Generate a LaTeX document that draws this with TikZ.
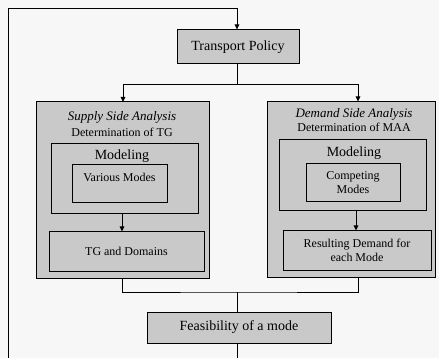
\documentclass[tikz,border=0pt]{standalone}
\usepackage{fontspec}
\setmainfont{Liberation Serif}
\usetikzlibrary{arrows.meta}

\begin{document}
\begin{tikzpicture}[x=1pt,y=-1pt,
      b/.style={draw, line width=1pt, fill=gray!42, inner sep=0pt, align=center,
      font=\fontsize{12}{14}\selectfont},
      big/.style={font=\fontsize{14}{16}\selectfont},
      ttl/.style={inner sep=0pt, align=center, font=\fontsize{13}{15}\selectfont\itshape},
      sub/.style={inner sep=0pt, font=\fontsize{12}{14}\selectfont},
      >={Triangle[length=5pt,width=4.5pt]}]
    \clip (0,0) rectangle (439,358);
    \fill[black!3] (0,0) rectangle (439,358);
    \node[b,big,minimum width=122pt,minimum height=34pt] (tp) at (238,47) {Transport Policy};
    \node[b,minimum width=173pt,minimum height=176pt] (supply) at (122.5,190) {};
    \node[b,minimum width=168pt,minimum height=175pt] (demand) at (351,189.5) {};
    \node[ttl] (st) at (122,117) {Supply Side Analysis};
    \node[sub] (sd) at (122,132.5) {Determination of TG};
    \node[ttl] (dt) at (354,114) {Demand Side Analysis};
    \node[sub] (dd) at (354,127.5) {Determination of MAA};
    \node[b,minimum width=147pt,minimum height=70pt] (smod) at (124.5,179) {};
    \node[big,inner sep=0pt] (smt) at (122,156) {Modeling};
    \node[b,minimum width=95pt,minimum height=38pt] (vm) at (119.5,184) {};
    \node[sub] (vmt) at (119.5,177) {Various Modes};
    \node[b,minimum width=147pt,minimum height=71pt] (dmod) at (352.5,175.5) {};
    \node[big,inner sep=0pt] (dmt) at (354,153) {Modeling};
    \node[b,minimum width=94pt,minimum height=38pt] (cm) at (353,183) {Competing\\Modes};
    \node[b,minimum width=155pt,minimum height=39pt] (tg) at (126.5,251.5) {TG and Domains};
    \node[b,minimum width=148pt,minimum height=39pt] (rd) at (357,250.5) {Resulting Demand for\\each Mode};
    \node[b,big,minimum width=184pt,minimum height=31pt] (feas) at (239,327.5) {Feasibility of a mode};
    \draw[line width=1pt] (tp.south -| 237,0) -- (237,85) coordinate (split);
    \draw[->,line width=1pt] (split) -| (123,102);
    \draw[->,line width=1pt] (split) -| ([xshift=7pt]demand.north);
    \draw[->,line width=1pt] (smod.south -| 122,0) -- (tg.north -| 122,0);
    \draw[->,line width=1pt] (dmod.south -| 356,0) -- (rd.north -| 356,0);
    \draw[line width=1pt] (supply.south) |- (237,292) coordinate (join) -| ([xshift=7pt]demand.south);
    \draw[line width=1pt] (join) -- (feas.north -| join);
    \draw[->,line width=1pt] (feas.south -| join) -- (237,370) -| (8,9) -| (tp.north -| 237,0);
  \end{tikzpicture}
\end{document}
